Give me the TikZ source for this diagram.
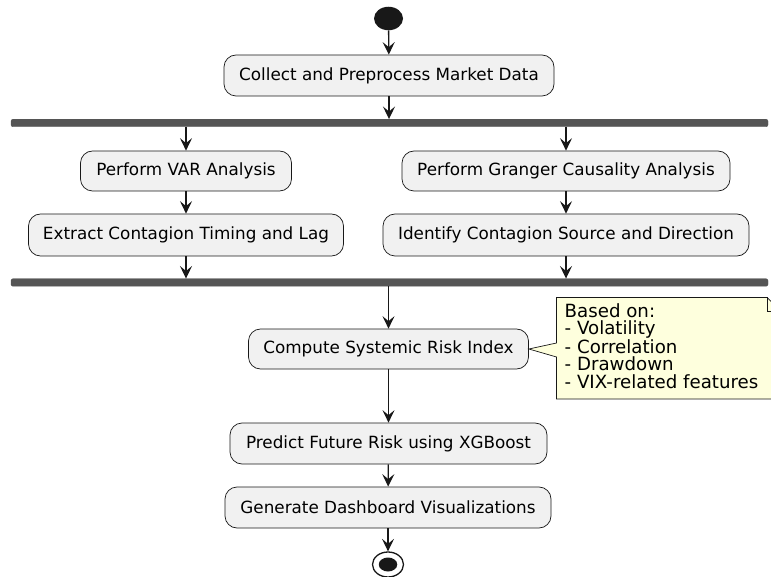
\documentclass[tikz,border=0pt]{standalone}
\usepackage{fontspec}
\setmainfont{DejaVu Sans}
\usetikzlibrary{arrows.meta,shapes.geometric}
\definecolor{boxfill}{HTML}{F1F1F1}
\definecolor{lineclr}{HTML}{181818}
\definecolor{barclr}{HTML}{555555}
\definecolor{notefill}{HTML}{FEFFDD}
\tikzset{
  act/.style={draw=lineclr, line width=0.7pt, fill=boxfill, rounded corners=12pt,
    inner sep=0pt, font=\fontsize{16.8}{20}\selectfont, text=black},
  bar/.style={fill=barclr, draw=barclr, rounded corners=2pt, inner sep=0pt,
    minimum width=757pt, minimum height=7.5pt},
  flow/.style={draw=lineclr, line width=1.3pt,
    -{Stealth[length=12.5pt, width=12pt, inset=5pt]}},
  notetext/.style={inner sep=0pt, align=left, font=\fontsize{18.2}{17.6}\selectfont, anchor=west}
}
\begin{document}
\begin{tikzpicture}[x=1pt,y=-1pt]
\useasboundingbox (0,0) rectangle (771,577);
% start
\node[ellipse, fill=lineclr, minimum width=29pt, minimum height=23.5pt, inner sep=0pt] (start) at (388.5,18.5) {};
\node[act, minimum width=330pt, minimum height=41pt] (collect) at (389,75.5) {Collect and Preprocess Market Data};
\node[bar] (fork) at (389.5,123) {};
\node[act, minimum width=211pt, minimum height=40pt] (var) at (186,171) {Perform VAR Analysis};
\node[act, minimum width=328pt, minimum height=40pt] (granger) at (566,171) {Perform Granger Causality Analysis};
\node[act, minimum width=315pt, minimum height=42pt] (extract) at (186,235) {Extract Contagion Timing and Lag};
\node[act, minimum width=366pt, minimum height=42pt] (identify) at (566,235) {Identify Contagion Source and Direction};
\node[bar] (join) at (389.5,282.5) {};
\node[act, minimum width=280pt, minimum height=40pt] (compute) at (388.5,349) {Compute Systemic Risk Index};
\node[act, minimum width=317pt, minimum height=41pt] (predict) at (388.5,443.5) {Predict Future Risk using XGBoost};
\node[act, minimum width=326pt, minimum height=41pt] (generate) at (388,507.5) {Generate Dashboard Visualizations};
% stop
\node[ellipse, draw=lineclr, line width=1.3pt, fill=white, minimum width=31pt, minimum height=25pt, inner sep=0pt] (stop) at (388,564.5) {};
\node[ellipse, fill=lineclr, minimum width=18.5pt, minimum height=14pt, inner sep=0pt] (stopin) at (388,564.5) {};
% note
\draw[draw=lineclr, line width=0.7pt, fill=notefill]
  (556.5,297.5) -- (767,297.5) -- (781,311.5) -- (781,399) -- (556.5,399) -- (556.5,357)
  -- (compute.east) -- (556.5,343) -- cycle;
\draw[draw=lineclr, line width=0.7pt] (767,297.5) -- (767,311.5) -- (781,311.5);
\node[notetext] (note) at (564.5,346) {Based on:\\- Volatility\\- Correlation\\- Drawdown\\- VIX-related features};
% flows
\draw[flow] (start) -- (collect);
\draw[flow] (collect.south) -- (collect.south |- fork.north);
\draw[flow] (fork.south -| var) -- (var.north);
\draw[flow] (fork.south -| granger) -- (granger.north);
\draw[flow] (var) -- (extract);
\draw[flow] (granger) -- (identify);
\draw[flow] (extract.south) -- (extract.south |- join.north);
\draw[flow] (identify.south) -- (identify.south |- join.north);
\draw[flow] (join.south -| compute) -- (compute.north);
\draw[flow] (compute) -- (predict);
\draw[flow] (predict) -- (generate);
\draw[flow] (generate) -- (stop);
\end{tikzpicture}
\end{document}
